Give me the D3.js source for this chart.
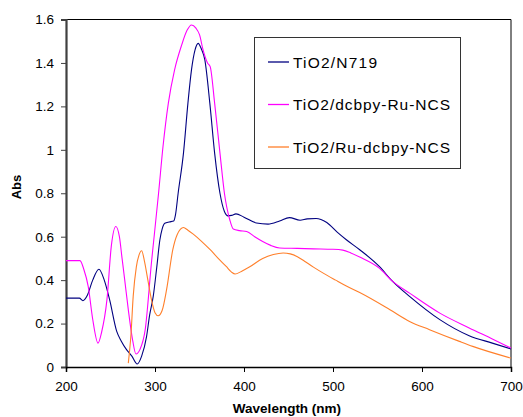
<!DOCTYPE html>
<html>
<head>
<meta charset="utf-8">
<script src="https://cdn.jsdelivr.net/npm/d3@7/dist/d3.min.js"></script>
<style>
  html, body { margin: 0; padding: 0; background: #fff; }
  svg { display: block; font-family: "Liberation Sans", Arial, sans-serif; }
</style>
</head>
<body>
<svg id="chart" width="523" height="417"></svg>
<script>
// Absorption spectra: [wavelength (nm), absorbance]
const n719 = [
  [200,0.317],[215,0.317],[219,0.305],[224,0.33],[230,0.40],[237,0.45],[243,0.40],[249,0.31],
  [257,0.164],[262,0.12],[268,0.08],[274,0.05],[280,0.014],[285,0.05],[290.5,0.14],[294,0.24],
  [298,0.325],[302,0.46],[305.5,0.586],[308,0.635],[311,0.662],[316,0.668],[321,0.672],[323,0.70],
  [326,0.80],[332,0.985],[337,1.215],[341,1.368],[345,1.46],[348.5,1.49],[352,1.465],[356,1.414],
  [361.6,1.215],[367,0.985],[373,0.80],[378,0.716],[382,0.696],[386,0.698],[391,0.705],[400,0.69],
  [414,0.663],[427,0.658],[440,0.672],[451,0.688],[463,0.676],[471,0.682],[481,0.684],[493,0.665],
  [505,0.62],[515,0.586],[530,0.54],[552,0.463],[567,0.394],[586,0.325],[620,0.218],[653,0.144],
  [679,0.11],[700,0.083]
];
const dcbpyRuNcs = [
  [200,0.49],[215.7,0.49],[220,0.45],[225,0.37],[230,0.22],[236,0.11],[240,0.16],[246,0.31],
  [251,0.56],[256,0.647],[260,0.60],[263,0.50],[266,0.40],[270,0.264],[275,0.12],[278.6,0.06],
  [283,0.08],[289,0.172],[296,0.48],[299,0.60],[304,0.80],[309,1.015],[315,1.215],[322,1.368],
  [330,1.483],[336,1.55],[341,1.575],[346,1.56],[350,1.53],[354,1.46],[359,1.40],[362,1.383],
  [367,1.215],[373,0.985],[378,0.80],[384,0.678],[388,0.635],[395,0.628],[403,0.624],[412,0.60],
  [421,0.578],[430,0.56],[440,0.548],[460,0.546],[478,0.544],[500,0.542],[511,0.538],[520,0.525],
  [530,0.506],[552,0.455],[567,0.394],[586,0.34],[620,0.248],[653,0.18],[679,0.129],[700,0.087]
];
const ruDcbpyNcs = [
  [270,0.018],[273,0.15],[275.5,0.325],[279,0.46],[282,0.515],[285,0.535],[288,0.49],[292,0.40],
  [296,0.31],[300,0.25],[303.6,0.236],[308,0.26],[313,0.356],[320,0.54],[325,0.61],[332,0.642],
  [337,0.63],[343,0.612],[352,0.58],[362,0.54],[371,0.50],[380,0.463],[386,0.437],[390,0.428],
  [397,0.44],[406,0.46],[421,0.50],[433,0.518],[444,0.525],[452,0.521],[460,0.508],[468,0.487],
  [478,0.46],[490,0.43],[503,0.40],[515,0.373],[530,0.343],[564,0.264],[586,0.21],[608.5,0.172],
  [642,0.118],[657,0.095],[700,0.041]
];

const seriesNames = ["TiO2/N719", "TiO2/dcbpy-Ru-NCS", "TiO2/Ru-dcbpy-NCS"];
const seriesColors = ["#000080", "#ff00ff", "#ff7f2a"];
const seriesData = [n719, dcbpyRuNcs, ruDcbpyNcs];

const xTicks = [200, 300, 400, 500, 600, 700];
const yTicks = [0, 0.2, 0.4, 0.6, 0.8, 1, 1.2, 1.4, 1.6];

const svg = d3.select("#chart");
const plot = { left: 66, right: 511, top: 19.5, bottom: 367 };

const x = d3.scaleLinear().domain([200, 700]).range([plot.left, plot.right]);
const y = d3.scaleLinear().domain([0, 1.6]).range([plot.bottom, plot.top]);

// frame: top and right edges
svg.append("path")
  .attr("d", `M${plot.left},${plot.top}H${plot.right}V${plot.bottom}`)
  .attr("fill", "none").attr("stroke", "#000").attr("stroke-width", 1);

// y axis
const yAxis = svg.append("g")
  .attr("transform", `translate(${plot.left},0)`)
  .call(d3.axisLeft(y).tickValues(yTicks).tickSize(5).tickPadding(7)
    .tickFormat(d => String(+d.toFixed(1))));
yAxis.select(".domain").attr("stroke", "#404040").attr("stroke-width", 2.2);
yAxis.selectAll(".tick line").attr("stroke", "#404040");
yAxis.selectAll("text").attr("font-size", 13.5).attr("fill", "#000")
  .attr("font-family", "'Liberation Sans', Arial, sans-serif");

// x axis
const xAxis = svg.append("g")
  .attr("transform", `translate(0,${plot.bottom})`)
  .call(d3.axisBottom(x).tickValues(xTicks).tickSize(5).tickPadding(9));
xAxis.select(".domain").attr("stroke", "#000").attr("stroke-width", 1.5);
xAxis.selectAll("text").attr("font-size", 13.5).attr("fill", "#000")
  .attr("font-family", "'Liberation Sans', Arial, sans-serif");

// axis titles
svg.append("text")
  .attr("transform", `translate(21,187) rotate(-90)`)
  .attr("text-anchor", "middle")
  .attr("font-size", 13).attr("font-weight", "bold")
  .text("Abs");
svg.append("text")
  .attr("x", 287).attr("y", 413)
  .attr("text-anchor", "middle")
  .attr("font-size", 13.5).attr("font-weight", "bold")
  .text("Wavelength (nm)");

// spectra
const line = d3.line()
  .x(d => x(d[0])).y(d => y(d[1]))
  .curve(d3.curveMonotoneX);

svg.append("g").selectAll("path")
  .data(seriesData)
  .join("path")
  .attr("d", line)
  .attr("fill", "none")
  .attr("stroke", (d, i) => seriesColors[i])
  .attr("stroke-width", 1.1);

// legend
const legend = svg.append("g");
legend.append("rect")
  .attr("x", 254.5).attr("y", 37.5).attr("width", 206).attr("height", 131)
  .attr("fill", "#fff").attr("stroke", "#333").attr("stroke-width", 1);
const rowY = [62, 104.5, 147];
const labelWidths = [84, 157, 157];
seriesNames.forEach((name, i) => {
  legend.append("line")
    .attr("x1", 268).attr("x2", 289).attr("y1", rowY[i]).attr("y2", rowY[i])
    .attr("stroke", seriesColors[i]).attr("stroke-width", 1.3);
  legend.append("text")
    .attr("x", 293).attr("y", rowY[i] + 5.5)
    .attr("font-size", 15.5)
    .attr("textLength", labelWidths[i])
    .attr("lengthAdjust", "spacing")
    .text(name);
});
</script>
</body>
</html>
